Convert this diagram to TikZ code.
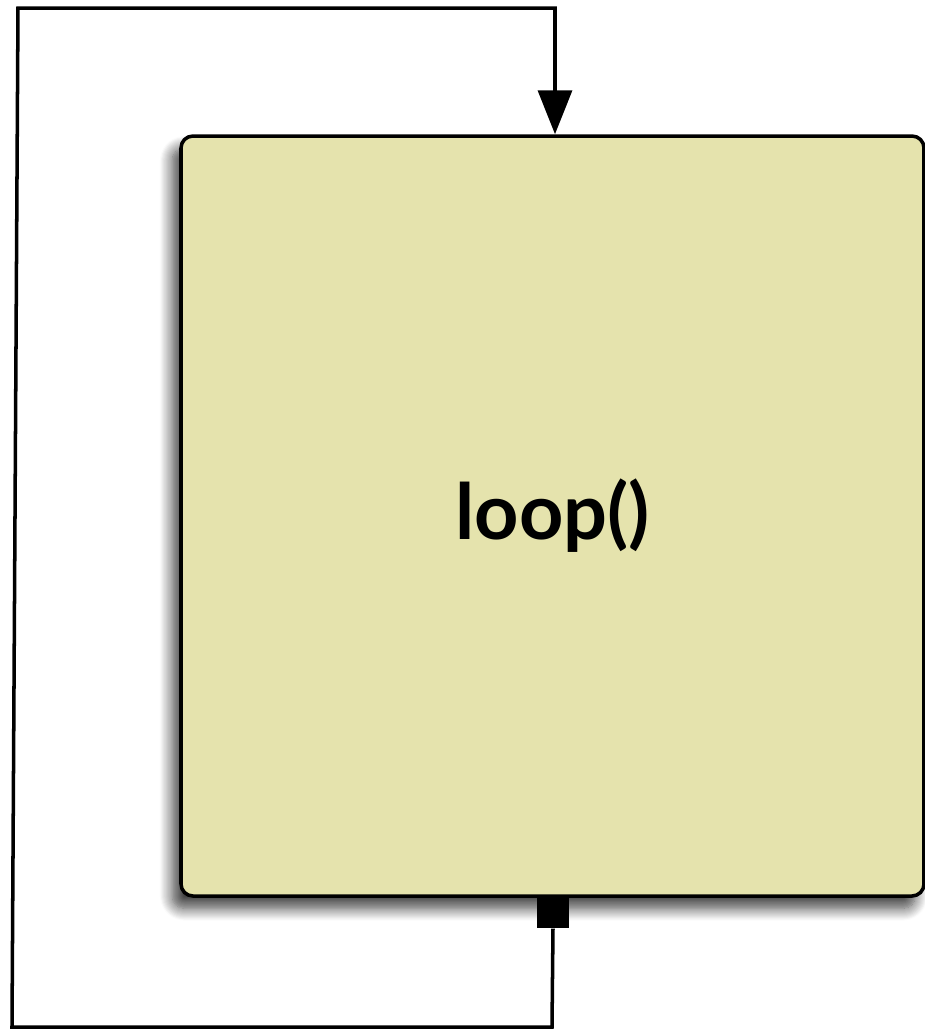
\documentclass[tikz,border=0pt]{standalone}
\usepackage{fontspec}
\setmainfont{Lato}
\usetikzlibrary{arrows.meta,shadows.blur}
\definecolor{boxyellow}{HTML}{E5E3AD}
\tikzset{
    loopbox/.style = {draw=black, line width=2pt, fill=boxyellow, rounded corners=12*0.02cm,
        minimum width=743*0.02cm, minimum height=760*0.02cm, inner sep=0pt,
        blur shadow={shadow xshift=-5pt, shadow yshift=-7pt, shadow blur radius=7pt, shadow blur steps=12, shadow opacity=75}},
    portbox/.style = {fill=black, minimum width=32*0.02cm, minimum height=31*0.02cm, inner sep=0pt},
    wire/.style = {line width=2pt}
}
\begin{document}
\begin{tikzpicture}[x=0.02cm, y=-0.02cm]
    \useasboundingbox (0,0) rectangle (925,1029);

    \def \lx {12};
    \def \ty {8};
    \def \by {1027};

    \node[loopbox] (body) at (552.5, 516) {\fontsize{44}{50}\selectfont\bfseries loop()};
    \node[portbox, anchor=north] (port) at (553, 897) {};

    % feedback path
    \coordinate (c1) at (552, \by);
    \coordinate (c2) at (\lx, \by);
    \coordinate (c3) at (\lx + 6, \ty);
    \coordinate (c4) at (555, \ty);

    \draw[wire, line join=miter, -{Triangle[length=44*0.02cm, width=34*0.02cm]}]
        (port.south) -- (c1) -- (c2) -- (c3) -- (c4) -- (body.north -| c4);
\end{tikzpicture}
\end{document}
